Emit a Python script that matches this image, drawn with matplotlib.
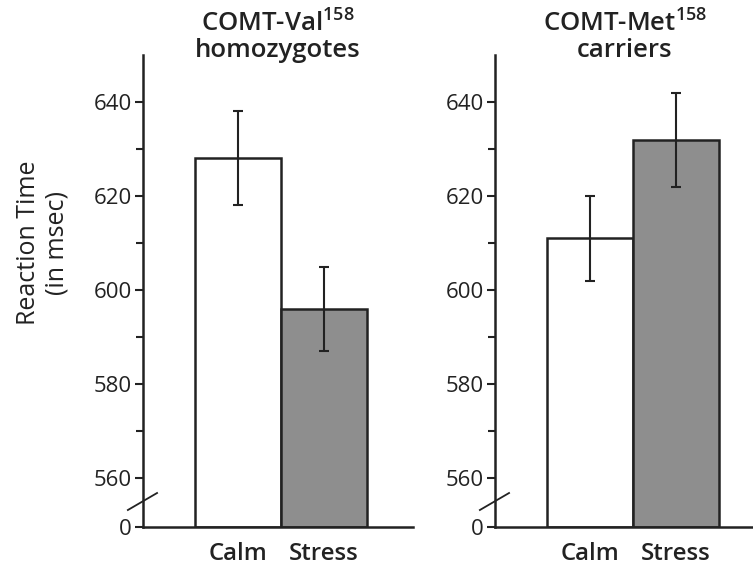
import matplotlib
matplotlib.use('Agg')
import matplotlib.pyplot as plt
from matplotlib.ticker import FixedLocator

plt.rcParams['font.family'] = ['Open Sans', 'DejaVu Sans']
plt.rcParams['mathtext.fontset'] = 'custom'
plt.rcParams['mathtext.rm'] = 'Open Sans:semibold'

# data
conditions = ['Calm', 'Stress']
title_top = ['COMT-Val$^{\\mathrm{158}}$', 'COMT-Met$^{\\mathrm{158}}$']
title_bottom = ['homozygotes', 'carriers']
rt_mean = [[628, 596], [611, 632]]
rt_err = [[10, 9], [9, 10]]
major_ticks = [560, 580, 600, 620, 640]
minor_ticks = [570, 590, 610, 630]
y_floor = 549.6   # where the "0" of the broken axis sits
y_top = 650

ink = '#222222'
bar_colors = ['white', '#8e8e8e']


def setup_panel(ax):
    for side in ['top', 'right']:
        ax.spines[side].set_visible(False)
    for side in ['left', 'bottom']:
        ax.spines[side].set_linewidth(1.8)
        ax.spines[side].set_color(ink)
    ax.set_xlim(0, 3.14)
    ax.set_ylim(y_floor, y_top)
    ax.yaxis.set_major_locator(FixedLocator([y_floor] + major_ticks))
    ax.set_yticklabels(['0'] + [str(t) for t in major_ticks])
    ax.yaxis.set_minor_locator(FixedLocator(minor_ticks))
    ax.tick_params(axis='y', which='major', length=6, width=1.5, color=ink,
                   labelsize=16, labelcolor=ink, pad=2)
    ax.tick_params(axis='y', which='minor', length=5, width=1.5, color=ink)
    ax.tick_params(axis='x', length=0, labelsize=17.3, labelcolor=ink, pad=11)
    # axis break mark
    ax.plot([-0.056, 0.052], [0.036, 0.072], transform=ax.transAxes,
            color=ink, lw=1.3, clip_on=False)


fig = plt.figure(figsize=(7.53, 5.72), dpi=100)
lefts = [143 / 753, 495 / 753]
title_x = [278 / 753, 625 / 753]
xpos = [1.1, 2.1]

for g, left in enumerate(lefts):
    ax = fig.add_axes([left, 45 / 572, 270 / 753, 472 / 572])
    setup_panel(ax)
    heights = [v - y_floor for v in rt_mean[g]]
    ax.bar(xpos, heights, bottom=y_floor, width=1.0, color=bar_colors,
           edgecolor=ink, linewidth=1.8, zorder=2)
    ax.errorbar(xpos, rt_mean[g], yerr=rt_err[g], fmt='none', ecolor=ink,
                elinewidth=1.5, capsize=3.5, capthick=1.5, zorder=3)
    ax.set_xticks(xpos)
    ax.set_xticklabels(conditions, fontweight='semibold')
    fig.text(title_x[g], 1 - 31 / 572, title_top[g], ha='center', va='baseline',
             fontsize=18.5, fontweight='semibold', color=ink)
    fig.text(title_x[g], 1 - 57 / 572, title_bottom[g], ha='center', va='baseline',
             fontsize=18.5, fontweight='semibold', color=ink)

fig.text(43 / 753, 1 - 243 / 572, 'Reaction Time\n(in msec)', rotation=90,
         ha='center', va='center', fontsize=18, color=ink, linespacing=1.2,
         fontweight='medium')

fig.savefig('out.png', dpi=100)
